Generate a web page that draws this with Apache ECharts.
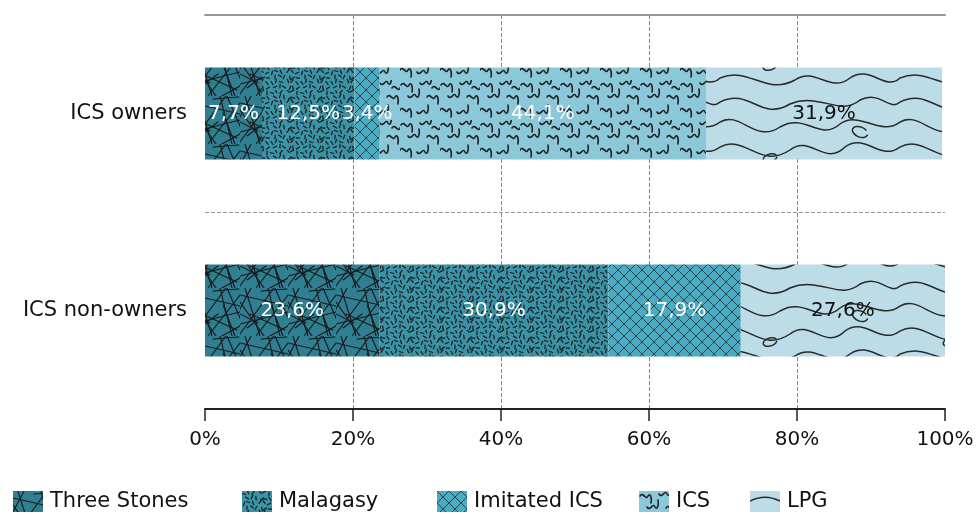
<!DOCTYPE html>
<html><head><meta charset="utf-8">
<script src="https://cdn.jsdelivr.net/npm/echarts@6/dist/echarts.min.js"></script>
<style>html,body{margin:0;padding:0;background:#fff}#c{width:977px;height:515px}</style>
</head><body><div id="c"></div>
<script>
const categories = ['ICS owners', 'ICS non-owners'];
const seriesNames = ['Three Stones', 'Malagasy', 'Imitated ICS', 'ICS', 'LPG'];
const threeStones = [7.7, 23.6];
const malagasy = [12.5, 30.9];
const imitatedICS = [3.4, 17.9];
const ics = [44.1, 0];
const lpg = [31.9, 27.6];
const xTicks = ['0%', '20%', '40%', '60%', '80%', '100%'];

const FONT = 'DejaVu Sans';

function mk(w, h, bg, draw) {
  const c = document.createElement('canvas');
  c.width = w; c.height = h;
  const g = c.getContext('2d');
  g.fillStyle = bg; g.fillRect(0, 0, w, h);
  g.strokeStyle = '#1a1a1a'; g.lineCap = 'round';
  draw(g);
  return { image: c, repeat: 'repeat' };
}
// Three Stones: criss-cross lines
const pThree = mk(48, 48, '#2f7e91', g => {
  g.lineWidth = 1.1;
  const segs = [[0,7,48,18],[5,0,20,48],[0,36,48,24],[28,0,40,48],[0,46,34,0],[16,48,48,7],
                [11,0,0,21],[48,38,30,48],[0,14,24,48],[35,0,48,30],[10,26,45,42],[21,3,47,1],
                [0,26,18,35],[31,17,43,48],[7,40,26,26]];
  segs.forEach(s => { g.beginPath(); g.moveTo(s[0], s[1]); g.lineTo(s[2], s[3]); g.stroke(); });
});
// Malagasy: short scattered dashes (fixed irregular offsets)
const pMal = mk(30, 30, '#3a93a7', g => {
  g.lineWidth = 1.2;
  const jit = [[0,1],[1,-1],[-1,0],[1,1],[0,-1],[-1,1],[1,0],[-1,-1],[0,0],[1,-1],[-1,1],[0,1]];
  const ang = [0.3, 1.2, 2.2, 0.9, 2.7, 1.6, 0.6, 2.0, 1.4, 2.5, 0.1, 1.0, 1.9];
  let k = 0;
  for (let y = 2; y < 30; y += 5) for (let x = 2; x < 30; x += 5) {
    const a = ang[k % ang.length];
    const j = jit[(k * 7) % jit.length]; k++;
    const dx = Math.cos(a) * 1.8, dy = Math.sin(a) * 1.8;
    const ox = ((y - 2) / 5) % 2 ? 2 : 0;
    const cx = x + ox + j[0], cy = y + j[1];
    g.beginPath(); g.moveTo(cx - dx, cy - dy); g.lineTo(cx + dx, cy + dy); g.stroke();
  }
});
// Imitated ICS: diagonal crosshatch
const pImit = mk(12, 12, '#49acc3', g => {
  g.lineWidth = 0.9; g.strokeStyle = '#2a3a40';
  g.beginPath(); g.moveTo(0, 0); g.lineTo(12, 12); g.stroke();
  g.beginPath(); g.moveTo(12, 0); g.lineTo(0, 12); g.stroke();
});
// ICS: squiggles
const pICS = mk(40, 40, '#8bc8da', g => {
  g.lineWidth = 1.6; g.strokeStyle = '#222';
  const sq = (x, y, f) => { g.beginPath(); g.moveTo(x, y);
    g.bezierCurveTo(x + 3, y - 5 * f, x + 6, y + 5 * f, x + 8, y);
    g.bezierCurveTo(x + 10, y - 4 * f, x + 12, y + 2 * f, x + 11, y + 7 * f); g.stroke(); };
  sq(1, 5, 1); sq(20, 3, -1); sq(8, 16, -1); sq(27, 17, 1); sq(0, 30, 1); sq(17, 32, -1); sq(32, 8, 1);
});
// LPG: contour-like waves
const pLPG = mk(180, 92, '#bcdde8', g => {
  g.lineWidth = 1.5; g.strokeStyle = '#2a2a2a';
  const paths = [
    [0,10, 30,-5, 40,30, 70,12, 100,0, 120,25, 140,8, 160,-2, 170,20, 180,10],
    [0,30, 20,18, 35,52, 60,35, 85,20, 100,50, 120,32, 140,18, 160,45, 180,30],
    [0,55, 25,42, 40,78, 70,58, 90,42, 105,75, 125,55, 145,40, 160,70, 180,55],
    [0,78, 30,66, 45,96, 75,80, 95,66, 110,94, 130,78, 150,64, 165,92, 180,78]
  ];
  paths.forEach(p => { g.beginPath(); g.moveTo(p[0], p[1]);
    g.bezierCurveTo(p[2], p[3], p[4], p[5], p[6], p[7]);
    g.bezierCurveTo(p[8], p[9], p[10], p[11], p[12], p[13]);
    g.bezierCurveTo(p[14], p[15], p[16], p[17], p[18], p[19]); g.stroke(); });
  g.beginPath(); g.ellipse(140, 40, 8, 5, 0.4, 0, Math.PI * 1.7); g.stroke();
  g.beginPath(); g.ellipse(50, 66, 7, 4, -0.3, 0.3, Math.PI * 1.9); g.stroke();
});
const patterns = [pThree, pMal, pImit, pICS, pLPG];
const labelColors = ['#fff', '#fff', '#fff', '#fff', '#111'];
const dataSets = [threeStones, malagasy, imitatedICS, ics, lpg];
const legendLeft = [8, 237, 432, 634, 745];

const chart = echarts.init(document.getElementById('c'), null, { renderer: 'canvas' });
chart.setOption({
  animation: false,
  textStyle: { fontFamily: FONT },
  grid: { left: 205, right: 32, top: 15, bottom: 106, containLabel: false },
  legend: seriesNames.map((n, i) => ({
    left: legendLeft[i], top: 486, itemWidth: 30, itemHeight: 21, icon: 'rect',
    textStyle: { fontSize: 21, color: '#111', fontFamily: FONT, padding: [0, 0, 0, 2] },
    data: [n]
  })),
  xAxis: [{
    type: 'value', min: 0, max: 100, interval: 20, position: 'bottom',
    axisLine: { show: true, lineStyle: { color: '#222', width: 2 } },
    axisTick: { show: true, length: 12, lineStyle: { color: '#222', width: 1.5 } },
    axisLabel: { formatter: (v) => xTicks[v / 20], fontSize: 20, color: '#111', margin: 21, fontFamily: FONT },
    splitLine: { show: true, lineStyle: { type: 'dashed', width: 1,
      color: ['rgba(0,0,0,0)', '#888', '#888', '#888', '#888', 'rgba(0,0,0,0)'] } }
  }, {
    type: 'value', min: 0, max: 100, position: 'top',
    axisLine: { show: true, lineStyle: { color: '#999', width: 2 } },
    axisTick: { show: false }, axisLabel: { show: false }, splitLine: { show: false }
  }],
  yAxis: {
    type: 'category', data: categories, inverse: true,
    axisLine: { show: false }, axisTick: { show: false },
    axisLabel: { fontSize: 21, color: '#111', margin: 18, fontFamily: FONT },
    splitLine: { show: true, lineStyle: { type: 'dashed', color: '#999', width: 1 } }
  },
  series: seriesNames.map((n, i) => ({
    name: n, type: 'bar', stack: 'all', barWidth: 92,
    data: dataSets[i],
    itemStyle: { color: patterns[i] },
    label: {
      show: true, position: 'inside', fontSize: 20, color: labelColors[i], fontFamily: FONT,
      formatter: p => p.value > 0 ? String(p.value).replace('.', ',') + '%' : ''
    }
  }))
});
</script></body></html>
